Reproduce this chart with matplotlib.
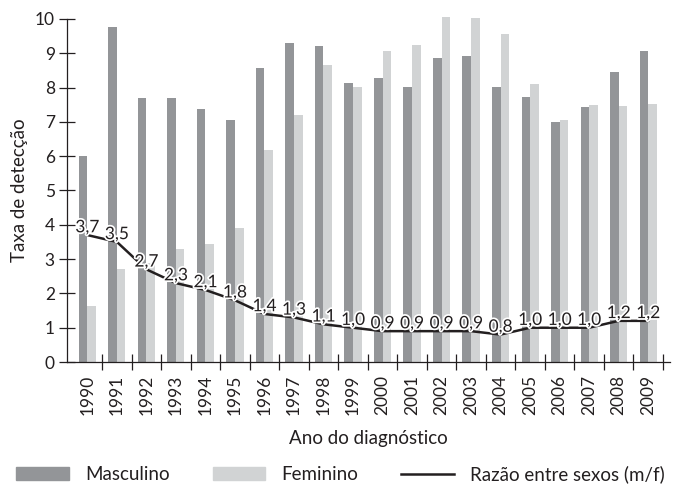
import matplotlib.pyplot as plt
import matplotlib.patheffects as pe
from matplotlib.patches import Patch
from matplotlib.lines import Line2D
import numpy as np

plt.rcParams['font.family'] = ['Lato', 'DejaVu Sans']

# Dados
anos = ['1990', '1991', '1992', '1993', '1994', '1995', '1996', '1997', '1998', '1999',
        '2000', '2001', '2002', '2003', '2004', '2005', '2006', '2007', '2008', '2009']
masculino = [6.0, 9.75, 7.7, 7.7, 7.38, 7.06, 8.57, 9.3, 9.22, 8.13,
             8.28, 8.02, 8.86, 8.92, 8.02, 7.73, 7.0, 7.43, 8.45, 9.07]
feminino = [1.63, 2.71, 2.9, 3.3, 3.44, 3.91, 6.18, 7.2, 8.66, 8.02,
            9.07, 9.24, 10.06, 10.03, 9.56, 8.1, 7.06, 7.49, 7.46, 7.52]
razao = [3.7, 3.5, 2.7, 2.3, 2.1, 1.8, 1.4, 1.3, 1.1, 1.0,
         0.9, 0.9, 0.9, 0.9, 0.8, 1.0, 1.0, 1.0, 1.2, 1.2]

cor_m = '#939598'
cor_f = '#d1d3d4'
cor_linha = '#231f20'

fig = plt.figure(figsize=(6.74, 4.84), dpi=100)
ax = fig.add_axes([0.099, 0.252, 0.895, 0.709])

x = np.arange(len(anos))
w = 0.29
ax.bar(x - w / 2, masculino, w, color=cor_m, clip_on=False, zorder=2)
ax.bar(x + w / 2, feminino, w, color=cor_f, clip_on=False, zorder=2)
ax.plot(x, razao, color=cor_linha, lw=1.8, zorder=3)

# rótulos da razão
for xi, v in zip(x, razao):
    ax.annotate(f'{v:.1f}'.replace('.', ','), (xi, v), xytext=(0, 2),
                textcoords='offset points', ha='center', va='baseline',
                fontsize=12.5, color=cor_linha, zorder=4,
                path_effects=[pe.withStroke(linewidth=2.5, foreground='white')])

ax.set_xlim(-0.7, 19.74)
ax.set_ylim(0, 10)
ax.set_yticks(range(0, 11))
ax.tick_params(axis='y', direction='inout', length=11, width=0.9, labelsize=12.5,
               pad=3, colors=cor_linha)

# ticks nos limites das categorias, rótulos nos centros
ax.set_xticks(x)
ax.set_xticklabels(anos, rotation=90, fontsize=12.5, color=cor_linha)
ax.tick_params(axis='x', which='major', length=0, pad=9)
ax.set_xticks(x + 0.5, minor=True)
ax.tick_params(axis='x', which='minor', direction='inout', length=11, width=0.9,
               color=cor_linha)

for s in ['top', 'right']:
    ax.spines[s].set_visible(False)
for s in ['left', 'bottom']:
    ax.spines[s].set_linewidth(0.9)
    ax.spines[s].set_color(cor_linha)

ax.set_ylabel('Taxa de detecção', fontsize=13.5, labelpad=5, color=cor_linha)
ax.set_xlabel('Ano do diagnóstico', fontsize=13.5, labelpad=11, color=cor_linha)

handles = [Patch(color=cor_m, label='Masculino'),
           Patch(color=cor_f, label='Feminino'),
           Line2D([], [], color=cor_linha, lw=1.8, label='Razão entre sexos (m/f)')]
leg = fig.legend(handles=handles, loc='center', bbox_to_anchor=(0.505, 0.02), ncol=3,
                 frameon=False, fontsize=13.5, handlelength=2.8, handleheight=0.7,
                 columnspacing=2.3, handletextpad=0.85, borderpad=0)
for t in leg.get_texts():
    t.set_color(cor_linha)

fig.savefig('out.png', dpi=100)
